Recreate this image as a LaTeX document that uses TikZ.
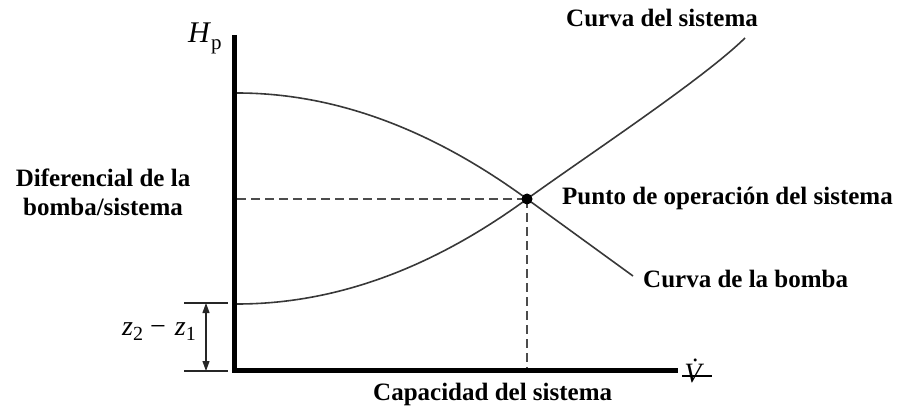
\documentclass[tikz,border=0pt]{standalone}
\usepackage{fontspec}
\setmainfont{Liberation Serif}
\usetikzlibrary{arrows.meta}
\begin{document}
\begin{tikzpicture}[x=1pt,y=-1pt,
  lab/.style={font=\fontsize{25}{29}\selectfont\bfseries, inner sep=0pt},
  mathlab/.style={inner sep=0pt},
  axis/.style={line width=5pt, line join=miter},
  curve/.style={line width=1.6pt, draw=black!78},
  guide/.style={line width=1.4pt, draw=black!70, dash pattern=on 9pt off 5pt},
  dimline/.style={line width=1.1pt, draw=black!85},
  dimarrow/.style={line width=1.1pt, draw=black!85, {Triangle[length=10pt,width=7pt]}-{Triangle[length=10pt,width=7pt]}},
]
\useasboundingbox (0,0) rectangle (902,414);
% key points
\coordinate (ytop) at (234.5,35);
\coordinate (O) at (234.5,370.5);
\coordinate (xend) at (678,370.5);
\coordinate (op) at (527,199);
\coordinate (pstart) at (237,93);
\coordinate (pend) at (633,276);
\coordinate (sstart) at (237,304);
\coordinate (send) at (745,38);
\coordinate (hstart) at (237,199);
\coordinate (vfoot) at (527,368);
\coordinate (dtl) at (184,303);
\coordinate (dtr) at (228,303);
\coordinate (dbl) at (184,371);
\coordinate (dbr) at (228,371);
\coordinate (dat) at (206,303);
\coordinate (dab) at (206,371);
\coordinate (vbl) at (682,376);
\coordinate (vbr) at (712,376);
% axes
\draw[axis] (ytop) -- (O) -- (xend);
% guides
\draw[guide] (hstart) -- (op);
\draw[guide] (op) -- (vfoot);
% curves
\draw[curve] (pstart) .. controls (333.7,93) and (430.3,128.3) .. (op) -- (pend);
\draw[curve] (sstart) .. controls (333.7,304) and (430.3,269.7) .. (op)
  .. controls (587,155.6) and (702,80) .. (send);
\fill (op) circle (5.5pt);
% dimension
\draw[dimline] (dtl) -- (dtr);
\draw[dimline] (dbl) -- (dbr);
\draw[dimarrow] (dat) -- (dab);
% labels
\node[lab, anchor=base west] (cs) at (566,27) {Curva del sistema};
\node[lab, anchor=base west] (po) at (562,205) {Punto de operación del sistema};
\node[lab, anchor=base west] (cb) at (643,287) {Curva de la bomba};
\node[lab, anchor=base west] (cap) at (373,400) {Capacidad del sistema};
\node[lab, anchor=base] (dif1) at (103,187) {Diferencial de la};
\node[lab, anchor=base] (dif2) at (103,215) {bomba/sistema};
\node[mathlab, anchor=base west] (hp) at (188,43) {\fontsize{30}{30}\selectfont\textit{H}\raisebox{-0.22em}{\fontsize{21}{21}\selectfont p}};
\node[mathlab, anchor=base east] (dz) at (196,335) {\fontsize{28}{28}\selectfont\textit{z}\raisebox{-0.2em}{\fontsize{20}{20}\selectfont 2}\hspace{7pt}−\hspace{9pt}\textit{z}\raisebox{-0.2em}{\fontsize{20}{20}\selectfont 1}};
\node[mathlab, anchor=base] (vd) at (697,382) {\fontsize{28}{28}\selectfont\textit{\.{V}}};
\draw[line width=2.5pt] (vbl) -- (vbr);
\end{tikzpicture}
\end{document}
